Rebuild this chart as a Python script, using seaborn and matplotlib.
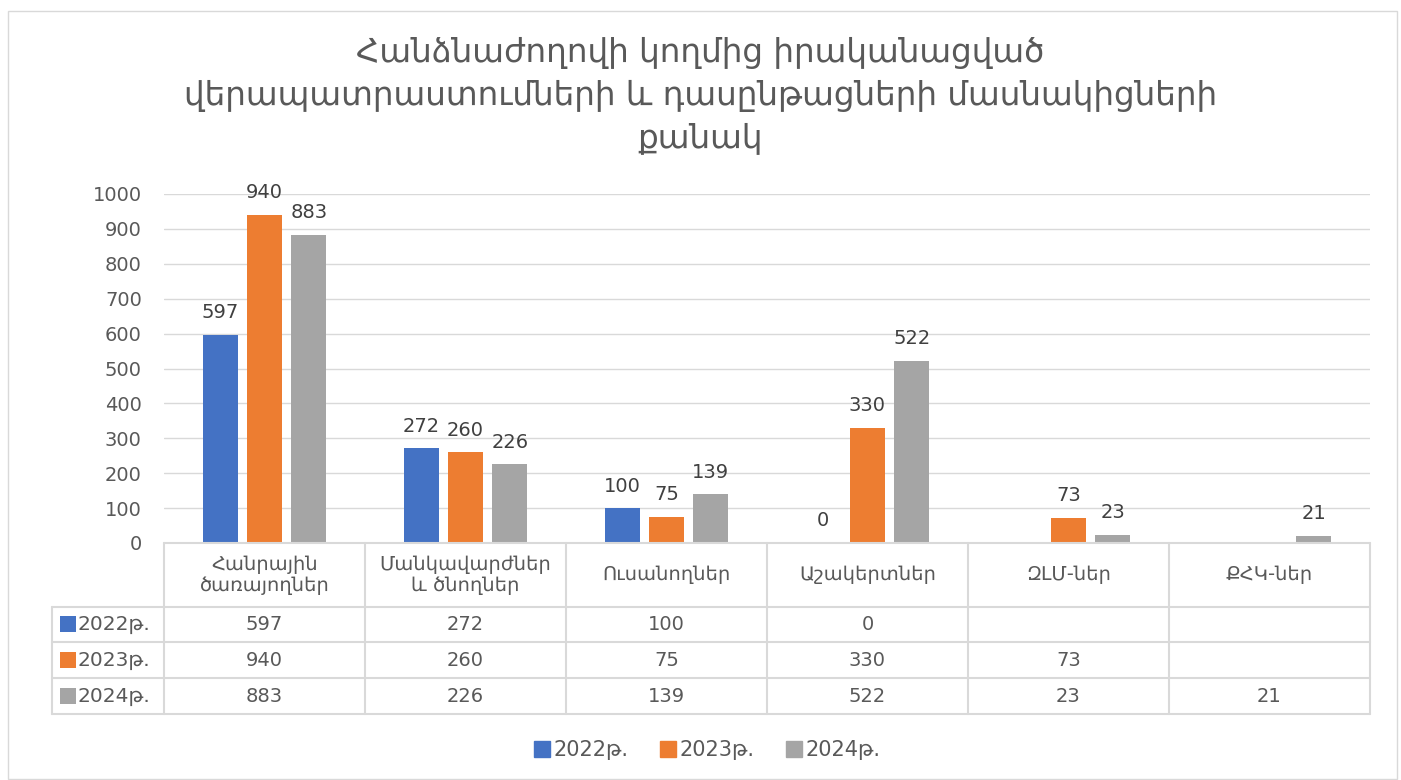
import numpy as np
import pandas as pd
import seaborn as sns
import matplotlib.pyplot as plt
from matplotlib.patches import Patch, Rectangle
from matplotlib.transforms import blended_transform_factory

categories = ['Հանրային\nծառայողներ', 'Մանկավարժներ\nև ծնողներ', 'Ուսանողներ',
              'Աշակերտներ', 'ԶԼՄ-ներ', 'ՔՀԿ-ներ']
years = ['2022թ.', '2023թ.', '2024թ.']
v2022 = [597, 272, 100, 0, np.nan, np.nan]
v2023 = [940, 260, 75, 330, 73, np.nan]
v2024 = [883, 226, 139, 522, 23, 21]
colors = ['#4472C4', '#ED7D31', '#A5A5A5']

title = ('Հանձնաժողովի կողմից իրականացված\n'
         'վերապատրաստումների և դասընթացների մասնակիցների\n'
         'քանակ')

sns.set_theme(style='white')
plt.rcParams['font.family'] = ['DejaVu Sans']
txt = '#595959'

df = pd.DataFrame({
    'category': categories * 3,
    'year': np.repeat(years, len(categories)),
    'value': v2022 + v2023 + v2024,
})

fig = plt.figure(figsize=(14.01, 7.8), dpi=100)
ax = fig.add_axes([164 / 1401, 1 - 543 / 780, (1370 - 164) / 1401, (543 - 194) / 780])

sns.barplot(data=df.dropna(), x='category', y='value', hue='year', order=categories,
            hue_order=years, palette=colors, width=0.66, gap=0.21, ax=ax,
            legend=False, saturation=1, linewidth=0)

for c in ax.containers:
    ax.bar_label(c, fmt='%d', padding=9, fontsize=14, color='#404040')

ax.set_xlim(-0.5, len(categories) - 0.5)
ax.set_ylim(0, 1000)
ax.set_yticks(range(0, 1001, 100))
ax.tick_params(axis='y', length=0, pad=16, labelsize=14, labelcolor=txt)
ax.set_xticks([])
ax.set_xlabel('')
ax.set_ylabel('')
ax.yaxis.grid(True, color='#d9d9d9', linewidth=1)
ax.set_axisbelow(True)
for s in ax.spines.values():
    s.set_visible(False)

# data table under the axis
tr = blended_transform_factory(ax.transData, ax.transAxes)
line_kw = dict(color='#d9d9d9', linewidth=1.5, transform=tr, clip_on=False)
n = len(categories)
x_left = -0.5 - (164 - 52) / 201
rows_y = [0, -0.183, -0.284, -0.387, -0.49]

ax.plot([-0.5, n - 0.5], [0, 0], **line_kw)
for y in rows_y[1:]:
    ax.plot([x_left, n - 0.5], [y, y], **line_kw)
for k in range(n + 1):
    ax.plot([k - 0.5, k - 0.5], [0, rows_y[-1]], **line_kw)
ax.plot([x_left, x_left], [rows_y[1], rows_y[-1]], **line_kw)

for i, cat in enumerate(categories):
    ax.text(i, (rows_y[0] + rows_y[1]) / 2, cat, ha='center', va='center',
            fontsize=14, color=txt, transform=tr, linespacing=1.1)

for r, (yr, vals, col) in enumerate(zip(years, [v2022, v2023, v2024], colors)):
    yc = (rows_y[r + 1] + rows_y[r + 2]) / 2
    ax.scatter([x_left + 0.08], [yc], marker='s', s=120, color=col, transform=tr,
               clip_on=False, linewidths=0)
    ax.text(x_left + 0.125, yc, yr, ha='left', va='center', fontsize=14.5, color=txt,
            transform=tr)
    for i, v in enumerate(vals):
        if not np.isnan(v):
            ax.text(i, yc, f'{int(v)}', ha='center', va='center', fontsize=14,
                    color=txt, transform=tr)

handles = [Patch(color=c) for c in colors]
fig.legend(handles, years, loc='center', bbox_to_anchor=(0.505, 0.038), ncol=3,
           frameon=False, handlelength=0.75, handleheight=0.75, handletextpad=0.2,
           columnspacing=1.5, fontsize=15, labelcolor=txt)

fig.text(0.5, 1 - 95 / 780, title, ha='center', va='center', fontsize=23.5,
         color=txt, linespacing=1.38)

fig.patches.append(Rectangle((8 / 1401, 1 / 780), 1389 / 1401, 768 / 780,
                             transform=fig.transFigure, fill=False,
                             edgecolor='#d9d9d9', linewidth=1))

fig.savefig('out.png', dpi=100)
